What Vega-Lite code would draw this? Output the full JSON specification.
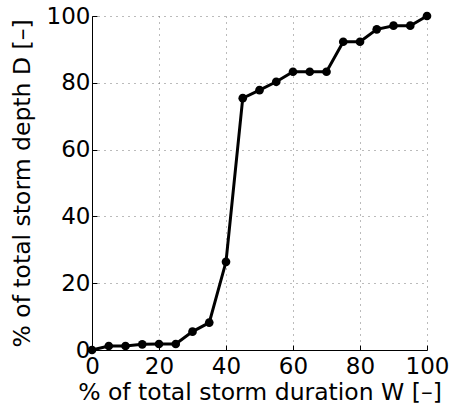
{
  "$schema": "https://vega.github.io/schema/vega-lite/v6.json",
  "autosize": "none",
  "width": 335,
  "height": 334,
  "padding": {"left": 92, "top": 16, "right": 24, "bottom": 61},
  "background": "white",
  "config": {
    "view": {"stroke": null},
    "font": "DejaVu Sans",
    "axis": {
      "labelFont": "DejaVu Sans",
      "titleFont": "DejaVu Sans",
      "labelFontSize": 23,
      "titleFontSize": 23.5,
      "labelColor": "black",
      "titleColor": "black",
      "titleFontWeight": "normal",
      "domainColor": "black",
      "domainWidth": 1,
      "tickColor": "black",
      "tickSize": -5,
      "gridColor": "#777777",
      "gridDash": [1, 5],
      "gridWidth": 1,
      "gridOpacity": 1
    }
  },
  "data": {
    "values": [
      {"w": 0, "d": 0},
      {"w": 5, "d": 1.2},
      {"w": 10, "d": 1.2},
      {"w": 15, "d": 1.7},
      {"w": 20, "d": 1.8},
      {"w": 25, "d": 1.8},
      {"w": 30, "d": 5.5},
      {"w": 35, "d": 8.2},
      {"w": 40, "d": 26.4},
      {"w": 45, "d": 75.4},
      {"w": 50, "d": 77.8},
      {"w": 55, "d": 80.3},
      {"w": 60, "d": 83.3},
      {"w": 65, "d": 83.3},
      {"w": 70, "d": 83.3},
      {"w": 75, "d": 92.3},
      {"w": 80, "d": 92.3},
      {"w": 85, "d": 96.0},
      {"w": 90, "d": 97.1},
      {"w": 95, "d": 97.1},
      {"w": 100, "d": 100}
    ]
  },
  "mark": {"type": "line", "color": "black", "strokeWidth": 3, "point": {"filled": true, "color": "black", "size": 75, "opacity": 1}},
  "encoding": {
    "x": {
      "field": "w", "type": "quantitative",
      "scale": {"domain": [0, 100], "nice": false, "zero": false},
      "axis": {"values": [0, 20, 40, 60, 80, 100], "labelPadding": 10, "titlePadding": 2, "title": "% of total storm duration  W [–]", "labelFlush": false, "labelOverlap": false}
    },
    "y": {
      "field": "d", "type": "quantitative",
      "scale": {"domain": [0, 100], "nice": false, "zero": false},
      "axis": {"values": [0, 20, 40, 60, 80, 100], "labelPadding": 7, "titlePadding": 12, "title": "% of total storm depth  D [–]", "labelFlush": false, "labelOverlap": false}
    }
  }
}
